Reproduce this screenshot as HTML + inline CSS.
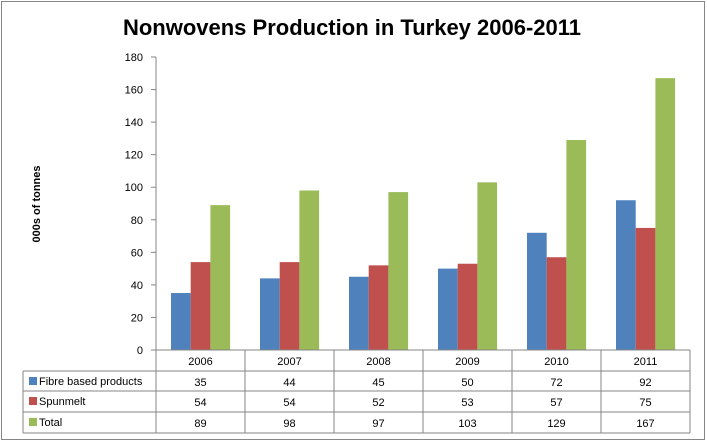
<!DOCTYPE html>
<html><head><meta charset="utf-8"><style>
body{margin:0;background:#fff;}
svg text{font-family:"Liberation Sans",sans-serif;}
</style></head><body>
<svg id="c" width="707" height="442" xmlns="http://www.w3.org/2000/svg">
<rect x="1.5" y="1.5" width="703" height="438" fill="#fff" stroke="#868686"/>
<text x="352" y="35" text-anchor="middle" font-size="22" font-weight="bold">Nonwovens Production in Turkey 2006-2011</text>
<text transform="translate(40,204) rotate(-90)" text-anchor="middle" font-size="11" font-weight="bold">000s of tonnes</text>
<g id="g"></g>
</svg>
<script>
const categories=["2006","2007","2008","2009","2010","2011"];
const fibre=[35,44,45,50,72,92];
const spunmelt=[54,54,52,53,57,75];
const total=[89,98,97,103,129,167];
const yTicks=[0,20,40,60,80,100,120,140,160,180];
const seriesNames=["Fibre based products","Spunmelt","Total"];
const colors=["#4f81bd","#c0504d","#9bbb59"];
const NS="http://www.w3.org/2000/svg";
const g=document.getElementById('g');
const x0=156,colW=89,yBase=350,yTop=57,yMax=180;
const y=v=>yBase-(v/yMax)*(yBase-yTop);
const colX=i=>x0+i*colW;
function mk(t,a,p){const e=document.createElementNS(NS,t);for(const k in a)e.setAttribute(k,a[k]);(p||g).appendChild(e);return e;}
yTicks.forEach(t=>{
 const tx=mk('text',{x:143,y:y(t)+4,'text-anchor':'end','font-size':11});
 tx.textContent=t;
 
 
 const tk=mk('line',{x1:151,x2:156,y1:y(t),y2:y(t),stroke:'#868686'});
 
 
});
const ax=mk('line',{x1:156,x2:156,y1:yTop,y2:yBase,stroke:'#868686'});


const data=[fibre,spunmelt,total];
categories.forEach((c,i)=>{
 data.forEach((s,j)=>{
  const r=mk('rect',{x:colX(i)+15+j*19.7,y:y(s[i]),width:19.7,height:yBase-y(s[i]),fill:colors[j]});
  
  
 });
});
// table
const rows=[350,371,391,412,433];
const st='#868686';
mk('line',{x1:156,x2:690,y1:350,y2:350,stroke:st});
rows.slice(1).forEach(r=>mk('line',{x1:23,x2:690,y1:r,y2:r,stroke:st}));
mk('line',{x1:23,x2:23,y1:371,y2:433,stroke:st});
for(let i=0;i<=categories.length;i++)mk('line',{x1:colX(i),x2:colX(i),y1:350,y2:433,stroke:st});
categories.forEach((c,i)=>{
 const t=mk('text',{x:colX(i)+colW/2,y:365,'text-anchor':'middle','font-size':11});
 t.textContent=c;
 
 
});
data.forEach((s,j)=>{
 const ry=rows[j+1];
 const sw=mk('rect',{x:29,y:ry+6,width:8,height:8,fill:colors[j]});
 
 
 const lt=mk('text',{x:39,y:ry+14,'font-size':11});
 lt.textContent=seriesNames[j];
 
 
 s.forEach((v,i)=>{
  const t=mk('text',{x:colX(i)+colW/2,y:ry+15,'text-anchor':'middle','font-size':11});
  t.textContent=v;
  
  
 });
});
</script>
</body></html>
